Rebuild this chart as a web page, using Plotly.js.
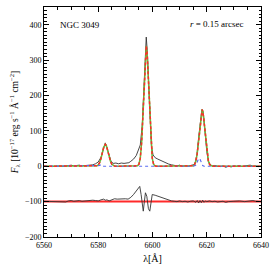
<!DOCTYPE html>
<html>
<head>
<meta charset="utf-8">
<script src="https://cdn.plot.ly/plotly-3.0.1.min.js"></script>
<style>html,body{margin:0;padding:0;background:#fff;}#chart{width:276px;height:273px;}</style>
</head>
<body>
<div id="chart"></div>
<script>
// Observed spectrum
const wlData = [6560,6561,6562,6563,6564,6565,6566,6567,6568,6569,6570,6571,6572,6573,6574,6575,6576,6577,6578,6579,6580,6581,6582,6582.6,6583.2,6584,6584.7,6585.5,6586.5,6587.5,6588.5,6589.5,6590.5,6591.3,6592,6593,6594,6594.8,6595.5,6596.2,6596.8,6597.3,6597.7,6598.1,6598.6,6599.1,6599.6,6600.2,6601,6602,6603,6604,6605,6606,6607,6608,6609,6610,6611,6612,6613,6614,6615,6615.7,6616.4,6617,6617.6,6618.2,6618.7,6619.3,6620,6620.6,6621.3,6622,6623,6624,6625,6626,6627,6628,6629,6630,6631,6632,6633,6634,6635,6636,6637,6638,6639,6640];
const fluxData = [1,0,1,-1,0,1,0,-1,0,2,3,1,2,3,1,2,1,3,4,7,12,25,55,66,52,30,14,8,9,7,9,8,8,10,14,20,30,45,60,115,215,320,365,322,222,125,58,32,24,20,16,12,9,6,4,2,1,3,0,1,0,2,4,9,33,80,128,160,153,100,42,14,4,1,2,0,-1,1,-3,0,-2,1,0,2,-1,1,2,3,0,1,-1,0];

// Total fitted model
const wlModel = [6560,6578,6579,6579.5,6580,6580.5,6581,6581.5,6582,6582.6,6583,6583.5,6584,6584.5,6585,6585.5,6586,6587,6594,6594.5,6595,6595.5,6596,6596.5,6597,6597.4,6597.7,6598,6598.4,6598.9,6599.4,6599.9,6600.4,6600.9,6601.5,6614,6614.5,6615,6615.5,6616,6616.5,6617,6617.5,6618,6618.3,6618.6,6619.1,6619.6,6620.1,6620.6,6621.1,6621.6,6622.1,6640];
const fluxModel = [0,0,0.3,1.2,3.8,10,21.5,37.6,53.4,62,58,44,27.6,14,5.8,1.9,0.5,0,0,1.2,6,23,68,153,259,323,340,323,259,153,68,23,6,1.2,0,0,0.2,1.2,4.5,14.5,37,74,120,154,160,154,120,74,37,14.5,4.5,1.2,0.2,0];

// Minor fitted component
const wlComp = [6560,6580,6580.5,6581,6581.5,6582,6615,6616,6616.5,6617,6617.5,6618,6618.5,6619,6640];
const fluxComp = [0,0,2,5,3,0,0,3,12,22,20,9,2,0,0];

// Residuals (data - model, offset)
const wlResid = [6560,6562,6564,6566,6568,6569,6570,6571,6572,6573,6574,6575,6576,6577,6578,6579,6580,6581,6582,6582.6,6583.2,6584,6585,6586,6587,6588,6589,6590,6591,6592,6593,6594,6595.3,6595.8,6596.3,6596.6,6597,6597.4,6597.9,6598.5,6599,6599.5,6599.9,6601,6602,6603,6604,6605,6606,6607,6608,6609,6610,6611,6612,6613,6614,6615,6616,6616.5,6617,6617.5,6618,6618.5,6619,6619.5,6620,6621,6622,6623,6624,6625,6626,6627,6628,6630,6632,6634,6636,6637,6638,6640];
const resid = [-99,-100,-99,-100,-101,-98,-97,-99,-98,-97,-99,-98,-99,-97,-96,-97,-98,-95,-93,-96,-95,-98,-94,-92,-93,-92,-93,-92,-93,-88,-80,-70,-57,-80,-115,-127,-100,-75,-85,-120,-127,-100,-80,-82,-85,-87,-90,-93,-96,-98,-99,-100,-98,-100,-99,-101,-99,-98,-102,-97,-104,-97,-103,-96,-102,-98,-100,-98,-100,-99,-101,-100,-99,-102,-100,-99,-98,-100,-99,-97,-99,-100];
const wlResidZero = [6560,6640];
const residZero = [-100,-100];

const traces = [
  {x: wlData, y: fluxData, mode:'lines', line:{color:'#333333', width:0.9}, hoverinfo:'skip'},
  {x: wlModel, y: fluxModel, mode:'lines', line:{color:'#5fc43a', width:1.5}, hoverinfo:'skip'},
  {x: wlComp, y: fluxComp, mode:'lines', line:{color:'#5a6cf0', width:1.2, dash:'dot'}, hoverinfo:'skip'},
  {x: wlModel, y: fluxModel, mode:'lines', line:{color:'#ff2a2a', width:1.5, dash:'3px,2px'}, hoverinfo:'skip'},
  {x: wlResidZero, y: residZero, mode:'lines', line:{color:'#ff2a2a', width:2}, hoverinfo:'skip'},
  {x: wlResid, y: resid, mode:'lines', line:{color:'#333333', width:0.9}, hoverinfo:'skip'}
];

const fnt = {family:'Liberation Serif, DejaVu Serif, serif', size:8, color:'#000'};

const layout = {
  width:276, height:273,
  margin:{l:44, r:15, t:7, b:36},
  paper_bgcolor:'#fff', plot_bgcolor:'#fff',
  showlegend:false,
  font: fnt,
  xaxis:{
    range:[6560,6640], dtick:20, tick0:6560,
    ticks:'inside', ticklen:5, tickwidth:1, tickcolor:'#000',
    minor:{dtick:5, ticklen:3, ticks:'inside', tickcolor:'#000'},
    showline:true, linecolor:'#000', linewidth:1, mirror:'allticks',
    showgrid:false, zeroline:false,
    tickfont:{family:fnt.family, size:8, color:'#000'},
    title:{text:'λ[Å]', font:{family:fnt.family, size:10, color:'#000'}, standoff:6}
  },
  yaxis:{
    range:[-200,450], dtick:100, tick0:0,
    ticks:'inside', ticklen:5, tickwidth:1, tickcolor:'#000',
    minor:{dtick:10, ticklen:2.5, ticks:'inside', tickcolor:'#000'},
    showline:true, linecolor:'#000', linewidth:1, mirror:'allticks',
    showgrid:false, zeroline:false,
    tickfont:{family:fnt.family, size:8, color:'#000'},
    title:{text:'<i>F</i><sub>λ</sub> [10<sup>−17</sup> erg s<sup>−1</sup> Å<sup>−1</sup> cm<sup>−2</sup>]', font:{family:fnt.family, size:9.5, color:'#000'}, standoff:4}
  },
  annotations:[
    {text:'NGC 3049', xref:'paper', yref:'paper', x:0.065, y:0.92, xanchor:'left', yanchor:'middle', showarrow:false, font:{family:fnt.family, size:9, color:'#000'}},
    {text:'<i>r</i> = 0.15 arcsec', xref:'paper', yref:'paper', x:0.93, y:0.925, xanchor:'right', yanchor:'middle', showarrow:false, font:{family:fnt.family, size:9, color:'#000'}}
  ]
};

Plotly.newPlot('chart', traces, layout, {displayModeBar:false, staticPlot:true});
</script>
</body>
</html>
